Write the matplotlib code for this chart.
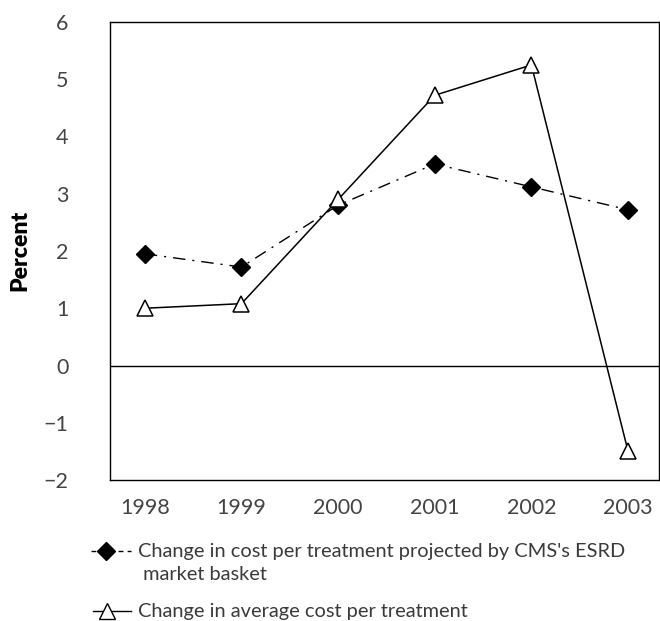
import matplotlib.pyplot as plt
from matplotlib.lines import Line2D

# Data
years = [1998, 1999, 2000, 2001, 2002, 2003]
projected = [1.95, 1.72, 2.8, 3.52, 3.12, 2.72]
actual = [1.0, 1.08, 2.9, 4.72, 5.25, -1.5]
yticks = [-2, -1, 0, 1, 2, 3, 4, 5, 6]
ytick_labels = ['\u22122', '\u22121', '0', '1', '2', '3', '4', '5', '6']
label_projected = "Change in cost per treatment projected by CMS's ESRD\n market basket"
label_actual = 'Change in average cost per treatment'

plt.rcParams['font.family'] = ['Lato', 'DejaVu Sans']

W, H = 660, 621
fig = plt.figure(figsize=(W / 100, H / 100), dpi=100)
ax = fig.add_axes([110 / W, 1 - 480 / H, 549 / W, 458 / H])

dashdot = (0, (9, 5, 1.5, 5))

ax.plot(years, projected, color='black', lw=1, linestyle=dashdot,
        marker='D', markersize=9, markerfacecolor='black', markeredgecolor='black')
ax.plot(years, actual, color='black', lw=1.1,
        marker='^', markersize=12, markerfacecolor='white', markeredgecolor='black',
        markeredgewidth=1.1)
ax.axhline(0, color='black', lw=1)

ax.set_xlim(1997.64, 2003.32)
ax.set_ylim(-2, 6)
ax.set_xticks(years)
ax.set_xticklabels([str(y) for y in years])
ax.set_yticks(yticks)
ax.set_yticklabels(ytick_labels)
ax.tick_params(length=0, labelsize=15.5, colors='#444444')
ax.tick_params(axis='x', pad=13)
ax.tick_params(axis='y', pad=30)
for sp in ax.spines.values():
    sp.set_color('black')
    sp.set_linewidth(1)

fig.text(20 / W, 1 - 250 / H, 'Percent', rotation=90, fontsize=16.5,
         fontweight='heavy', ha='center', va='center')

# Manual legend below the plot
def fx(px):
    return px / W

def fy(py):
    return 1 - py / H

fig.add_artist(Line2D([fx(91), fx(131)], [fy(551), fy(551)], transform=fig.transFigure,
                      color='black', lw=1, linestyle=(0, (3.5, 3))))
fig.add_artist(Line2D([fx(106)], [fy(551)], transform=fig.transFigure, color='black',
                      marker='D', markersize=9, markerfacecolor='black'))
fig.text(fx(138), fy(551), label_projected.split('\n')[0], fontsize=14.4, color='#3a3a3a',
         ha='left', va='center')
fig.text(fx(138), fy(575), label_projected.split('\n')[1], fontsize=14.4, color='#3a3a3a',
         ha='left', va='center')

fig.add_artist(Line2D([fx(93), fx(131)], [fy(611), fy(611)], transform=fig.transFigure,
                      color='black', lw=1))
fig.add_artist(Line2D([fx(107)], [fy(611)], transform=fig.transFigure, color='black',
                      marker='^', markersize=11, markerfacecolor='white'))
fig.text(fx(138), fy(611), label_actual, fontsize=14.4, color='#3a3a3a',
         ha='left', va='center')

fig.savefig('out.png', dpi=100)
